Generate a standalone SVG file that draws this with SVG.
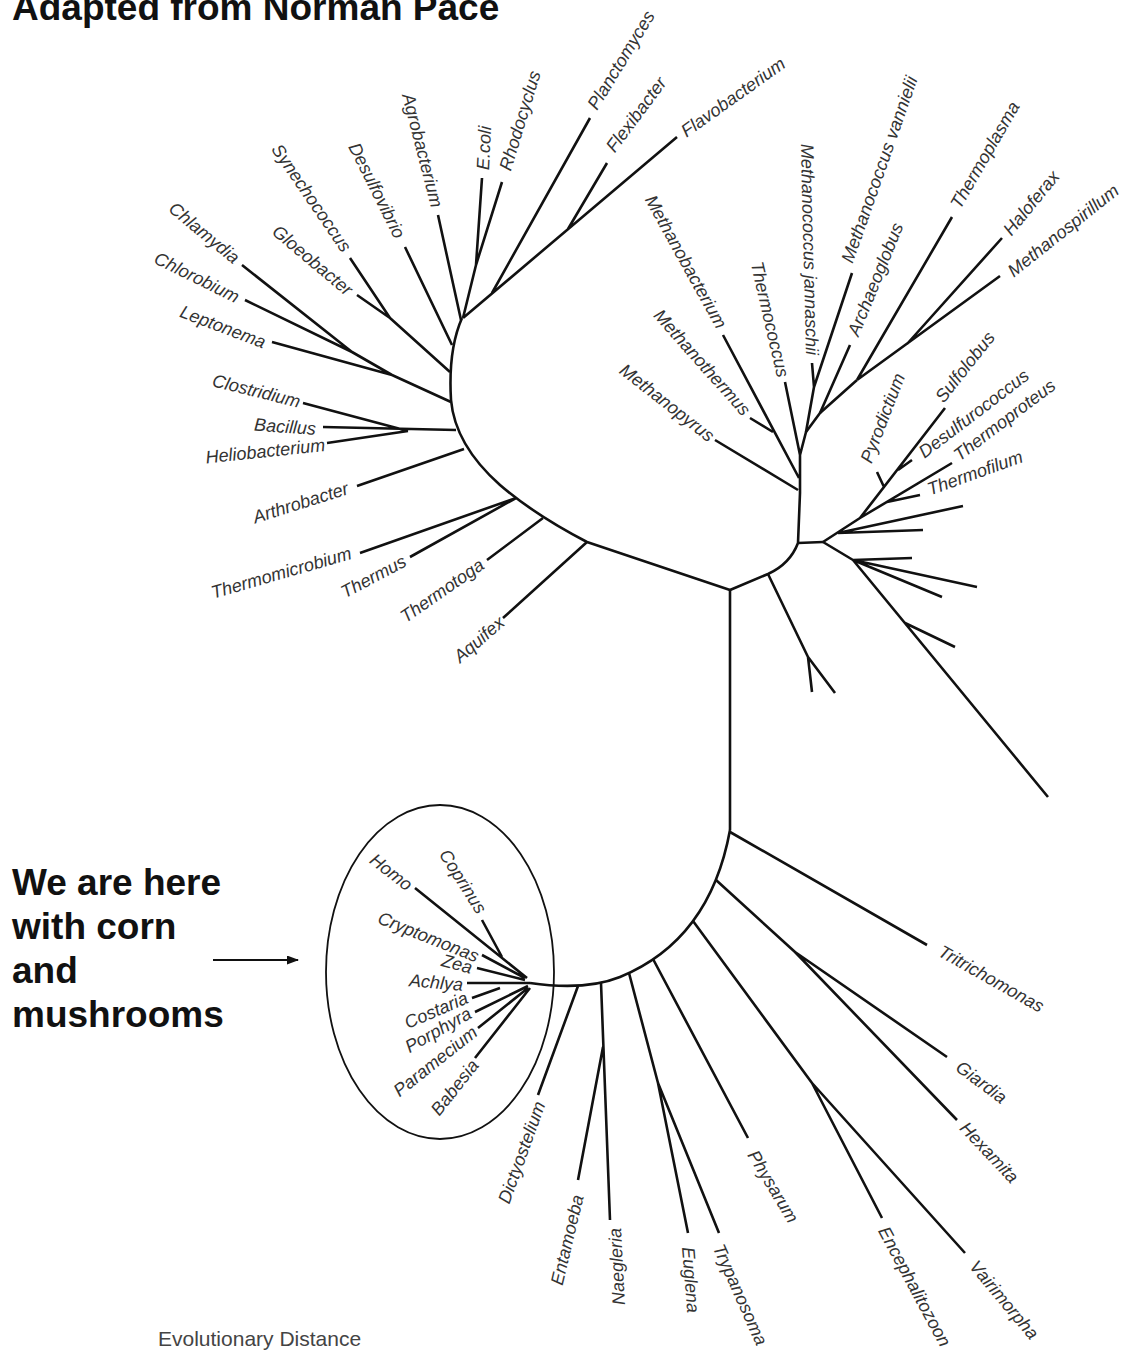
<svg xmlns="http://www.w3.org/2000/svg" width="1145" height="1362" viewBox="0 0 1145 1362">
<style>
.br{fill:none;stroke:#111;stroke-width:2.6;stroke-linecap:butt;stroke-linejoin:round}
.l{font-family:"Liberation Sans",Arial,sans-serif;font-style:italic;font-size:18px;fill:#333}
.e{text-anchor:end}
.big{font-family:"Liberation Sans",Arial,sans-serif;font-weight:bold;font-size:37px;fill:#111}
</style>
<defs>
<marker id="ah" markerWidth="12" markerHeight="9" refX="11" refY="4.5" orient="auto" markerUnits="userSpaceOnUse"><path d="M0,0 L12,4.5 L0,9 z" fill="#111"/></marker>
</defs>
<rect width="1145" height="1362" fill="#fff"/>
<g id="title"><text class="big" x="12" y="20">Adapted from Norman Pace</text></g>
<g id="note"><text class="big" x="12" y="895">We are here</text><text class="big" x="12" y="939">with corn</text><text class="big" x="12" y="983">and</text><text class="big" x="12" y="1027">mushrooms</text></g>
<g id="scale"><text x="158" y="1346" style="font-family:'Liberation Sans',Arial,sans-serif;font-size:21px;fill:#444">Evolutionary Distance</text></g>
<g id="crown-ellipse"><ellipse cx="440" cy="972" rx="114" ry="167" fill="none" stroke="#111" stroke-width="1.8"/></g>
<g id="branches">
<line x1="213" y1="960" x2="298" y2="960" stroke="#111" stroke-width="2" marker-end="url(#ah)"/>
<path class="br" d="M462,318 Q448,350 451,400 Q455,445 500,485 Q535,515 587,542 L730,590"/>
<path class="br" d="M730,590 L730,830"/>
<path class="br" d="M482,178 L476,265 L463,318 M502,182 L476,265 M677,137 L463,318 M607,163 L568,229 M590,118 L492,293"/>
<path class="br" d="M438,215 L461,320 M405,247 L452,345 M350,258 L390,318 L450,372 M357,295 L390,318"/>
<path class="br" d="M242,265 L352,352 M245,300 L352,352 L392,375 L451,402 M272,342 L392,375"/>
<path class="br" d="M303,403 L408,431 M327,443 L408,431 M323,427 L456,430 M357,486 L464,449"/>
<path class="br" d="M360,553 L516,498 M410,557 L516,498 M487,560 L543,518 M503,618 L587,542"/>
<path class="br" d="M730,590 L768,574 Q790,564 798,543 L800,493 M798,543 L823,542"/>
<path class="br" d="M768,574 L808,657 L812,692 M808,657 L835,693"/>
<path class="br" d="M800,493 L800,455 L806,432 L820,413 L857,380 M715,440 L798,490 M723,335 L799,478 M750,418 L773,432 M785,382 L800,455"/>
<path class="br" d="M812,363 L814,387 M852,273 L814,387 L806,432 M850,345 L820,413 M952,217 L857,380 M1000,276 L857,380 M1002,238 L907,344"/>
<path class="br" d="M823,542 L860,518 L945,408 M860,518 L952,463 M887,502 L920,495 M838,533 L963,506 M838,533 L923,530 M898,470 L912,460 M884,487 L877,472"/>
<path class="br" d="M823,542 L853,560 L912,558 M853,560 L977,587 M853,560 L942,597 M853,560 L1048,797 M905,623 L955,647"/>
<path class="br" d="M730,830 Q710,940 620,977 Q585,991 530,983"/>
<path class="br" d="M730,832 L927,945 M716,880 L795,952 L947,1057 M795,952 L957,1120 M693,921 L812,1083 L882,1218 M812,1083 L965,1253"/>
<path class="br" d="M653,959 L748,1138 M629,973 L658,1083 L688,1233 M658,1083 L719,1233 M601,983 L610,1220 M578,1180 L603,1047 M578,986 L538,1095"/>
<path class="br" d="M415,888 L527,978 M482,920 L502,957 M482,955 L525,978 M477,968 L525,980 M467,983 L530,983 M472,998 L500,988 M475,1012 L528,986 M478,1028 L528,988 M475,1058 L530,988"/>
</g>
<g id="bacteria">
<g id="n-agrobacterium"><text class="l e" transform="translate(437,207) rotate(75.5)" dy="0.33em">Agrobacterium</text></g>
<g id="n-desulfovibrio"><text class="l e" transform="translate(400,237) rotate(63.4)" dy="0.33em">Desulfovibrio</text></g>
<g id="n-synechococcus"><text class="l e" transform="translate(347,250) rotate(55.6)" dy="0.33em">Synechococcus</text></g>
<g id="n-gloeobacter"><text class="l e" transform="translate(350,292) rotate(40)" dy="0.33em">Gloeobacter</text></g>
<g id="n-chlamydia"><text class="l e" transform="translate(237,260) rotate(39.4)" dy="0.33em">Chlamydia</text></g>
<g id="n-chlorobium"><text class="l e" transform="translate(238,298) rotate(26.3)" dy="0.33em">Chlorobium</text></g>
<g id="n-leptonema"><text class="l e" transform="translate(265,343) rotate(20.8)" dy="0.33em">Leptonema</text></g>
<g id="n-clostridium"><text class="l e" transform="translate(300,402) rotate(14)" dy="0.33em">Clostridium</text></g>
<g id="n-bacillus"><text class="l e" transform="translate(316,429) rotate(4)" dy="0.33em">Bacillus</text></g>
<g id="n-heliobacterium"><text class="l e" transform="translate(325,445) rotate(-6)" dy="0.33em">Heliobacterium</text></g>
<g id="n-arthrobacter"><text class="l e" transform="translate(348,488) rotate(-17.5)" dy="0.33em">Arthrobacter</text></g>
<g id="n-thermomicrobium"><text class="l e" transform="translate(351,553) rotate(-16)" dy="0.33em">Thermomicrobium</text></g>
<g id="n-thermus"><text class="l e" transform="translate(405,560) rotate(-28)" dy="0.33em">Thermus</text></g>
<g id="n-thermotoga"><text class="l e" transform="translate(482,563) rotate(-34.8)" dy="0.33em">Thermotoga</text></g>
<g id="n-aquifex"><text class="l e" transform="translate(502,620) rotate(-40.4)" dy="0.33em">Aquifex</text></g>
<g id="n-ecoli"><text class="l" transform="translate(483,170) rotate(-87)" dy="0.33em">E.coli</text></g>
<g id="n-rhodocyclus"><text class="l" transform="translate(505,170) rotate(-73)" dy="0.33em">Rhodocyclus</text></g>
<g id="n-planctomyces"><text class="l" transform="translate(592,108) rotate(-58.6)" dy="0.33em">Planctomyces</text></g>
<g id="n-flexibacter"><text class="l" transform="translate(610,150) rotate(-53.4)" dy="0.33em">Flexibacter</text></g>
<g id="n-flavobacterium"><text class="l" transform="translate(683,133) rotate(-35.4)" dy="0.33em">Flavobacterium</text></g>
</g>
<g id="archaea">
<g id="n-methanobacterium"><text class="l e" transform="translate(722,327) rotate(61)" dy="0.33em">Methanobacterium</text></g>
<g id="n-methanothermus"><text class="l e" transform="translate(747,413) rotate(48.3)" dy="0.33em">Methanothermus</text></g>
<g id="n-methanopyrus"><text class="l e" transform="translate(712,438) rotate(37.9)" dy="0.33em">Methanopyrus</text></g>
<g id="n-thermococcus"><text class="l e" transform="translate(783,377) rotate(77)" dy="0.33em">Thermococcus</text></g>
<g id="n-mjannaschii"><text class="l e" transform="translate(812,355) rotate(88.6)" dy="0.33em">Methanococcus jannaschii</text></g>
<g id="n-mvannielii"><text class="l" transform="translate(847,262) rotate(-70.6)" dy="0.33em">Methanococcus vannielii</text></g>
<g id="n-archaeoglobus"><text class="l" transform="translate(853,335) rotate(-68)" dy="0.33em">Archaeoglobus</text></g>
<g id="n-thermoplasma"><text class="l" transform="translate(955,207) rotate(-60)" dy="0.33em">Thermoplasma</text></g>
<g id="n-haloferax"><text class="l" transform="translate(1007,233) rotate(-50.7)" dy="0.33em">Haloferax</text></g>
<g id="n-methanospirillum"><text class="l" transform="translate(1010,273) rotate(-38.5)" dy="0.33em">Methanospirillum</text></g>
<g id="n-pyrodictium"><text class="l" transform="translate(866,462) rotate(-69)" dy="0.33em">Pyrodictium</text></g>
<g id="n-sulfolobus"><text class="l" transform="translate(939,400) rotate(-51.7)" dy="0.33em">Sulfolobus</text></g>
<g id="n-desulfurococcus"><text class="l" transform="translate(921,454) rotate(-37.3)" dy="0.33em">Desulfurococcus</text></g>
<g id="n-thermoproteus"><text class="l" transform="translate(956,457) rotate(-37.2)" dy="0.33em">Thermoproteus</text></g>
<g id="n-thermofilum"><text class="l" transform="translate(928,490) rotate(-19.8)" dy="0.33em">Thermofilum</text></g>
</g>
<g id="eukarya">
<g id="n-homo"><text class="l e" transform="translate(410,887) rotate(38)" dy="0.33em">Homo</text></g>
<g id="n-coprinus"><text class="l e" transform="translate(482,912) rotate(57.8)" dy="0.33em">Coprinus</text></g>
<g id="n-cryptomonas"><text class="l e" transform="translate(478,957) rotate(21.8)" dy="0.33em">Cryptomonas</text></g>
<g id="n-zea"><text class="l e" transform="translate(472,968) rotate(15)" dy="0.33em">Zea</text></g>
<g id="n-achlya"><text class="l e" transform="translate(463,985) rotate(5)" dy="0.33em">Achlya</text></g>
<g id="n-costaria"><text class="l e" transform="translate(467,997) rotate(-23.4)" dy="0.33em">Costaria</text></g>
<g id="n-porphyra"><text class="l e" transform="translate(470,1012) rotate(-29.6)" dy="0.33em">Porphyra</text></g>
<g id="n-paramecium"><text class="l e" transform="translate(475,1030) rotate(-38.4)" dy="0.33em">Paramecium</text></g>
<g id="n-babesia"><text class="l e" transform="translate(475,1062) rotate(-51.6)" dy="0.33em">Babesia</text></g>
<g id="n-dictyostelium"><text class="l e" transform="translate(540,1102) rotate(-70.2)" dy="0.33em">Dictyostelium</text></g>
<g id="n-entamoeba"><text class="l e" transform="translate(578,1195) rotate(-76.6)" dy="0.33em">Entamoeba</text></g>
<g id="n-naegleria"><text class="l e" transform="translate(615,1228) rotate(-93)" dy="0.33em">Naegleria</text></g>
<g id="n-euglena"><text class="l" transform="translate(688,1247) rotate(85.5)" dy="0.33em">Euglena</text></g>
<g id="n-trypanosoma"><text class="l" transform="translate(718,1245) rotate(66)" dy="0.33em">Trypanosoma</text></g>
<g id="n-physarum"><text class="l" transform="translate(752,1152) rotate(58.8)" dy="0.33em">Physarum</text></g>
<g id="n-encephalitozoon"><text class="l" transform="translate(883,1228) rotate(61.8)" dy="0.33em">Encephalitozoon</text></g>
<g id="n-vairimorpha"><text class="l" transform="translate(973,1263) rotate(50)" dy="0.33em">Vairimorpha</text></g>
<g id="n-hexamita"><text class="l" transform="translate(963,1125) rotate(46.5)" dy="0.33em">Hexamita</text></g>
<g id="n-giardia"><text class="l" transform="translate(958,1065) rotate(36.7)" dy="0.33em">Giardia</text></g>
<g id="n-tritrichomonas"><text class="l" transform="translate(940,950) rotate(29.4)" dy="0.33em">Tritrichomonas</text></g>
</g>
</svg>
